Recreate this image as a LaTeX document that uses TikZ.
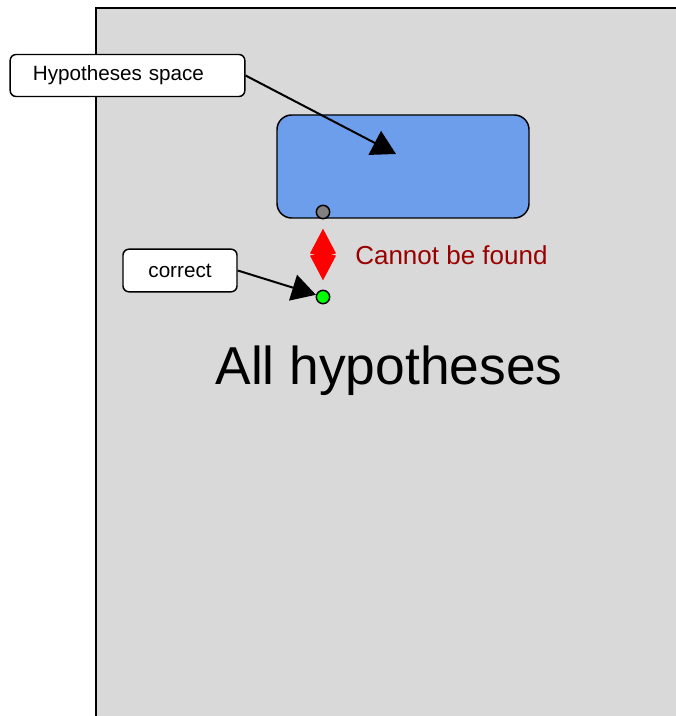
\documentclass[tikz,border=0pt]{standalone}
\usepackage{fontspec}
\setmainfont{Liberation Sans}
\usetikzlibrary{arrows.meta}

\definecolor{panelgray}{HTML}{D9D9D9}
\definecolor{hypblue}{HTML}{6D9EEB}
\definecolor{notfound}{HTML}{990000}

\tikzset{
  callout/.style={draw, line width=1.1pt, fill=white, rounded corners=4.5pt,
    font=\fontsize{15.5}{18}\selectfont},
  dot/.style={circle, draw, line width=1.1pt, inner sep=0pt, minimum size=10pt},
  pointer/.style={line width=1.5pt, -{Triangle[length=18pt,width=20pt]}}
}

\begin{document}
\begin{tikzpicture}[x=0.75pt,y=-0.75pt]
\useasboundingbox (0,0) rectangle (675,716);

% all hypotheses
\draw[line width=1.2pt, fill=panelgray] (96,8) rectangle (690,730);
\node[anchor=base, font=\fontsize{40}{46}\selectfont] (allhyp) at (389,384) {All hypotheses};

% hypotheses space
\draw[line width=1.1pt, fill=hypblue, rounded corners=11pt] (277,115) rectangle (529,218);
\coordinate (spaceinner) at (396,154);

\node[dot, fill=gray] (bad) at (323,212) {};
\node[dot, fill=green] (good) at (323,297) {};

\draw[red, line width=0.8pt, {Kite[length=21pt,width=19.5pt,inset=2.5pt]}-{Kite[length=21pt,width=19.5pt,inset=2.5pt]},
  shorten <=7pt, shorten >=7pt] (bad) -- (good);
\node[anchor=base west, text=notfound, font=\fontsize{19.5}{23}\selectfont, inner sep=0pt] (cannot) at (355,265) {Cannot be found};

% callouts
\node[callout, minimum width=176pt, minimum height=31.5pt, text width=142pt, inner xsep=17pt, align=left]
  (spacelabel) at (127.5,75.5) {Hypotheses space};
\node[callout, minimum width=85.5pt, minimum height=32pt] (correctlabel) at (180,270.5) {correct};

\draw[pointer] (spacelabel.east) -- (spaceinner);
\draw[pointer] (correctlabel.east) -- (good);
\end{tikzpicture}
\end{document}
